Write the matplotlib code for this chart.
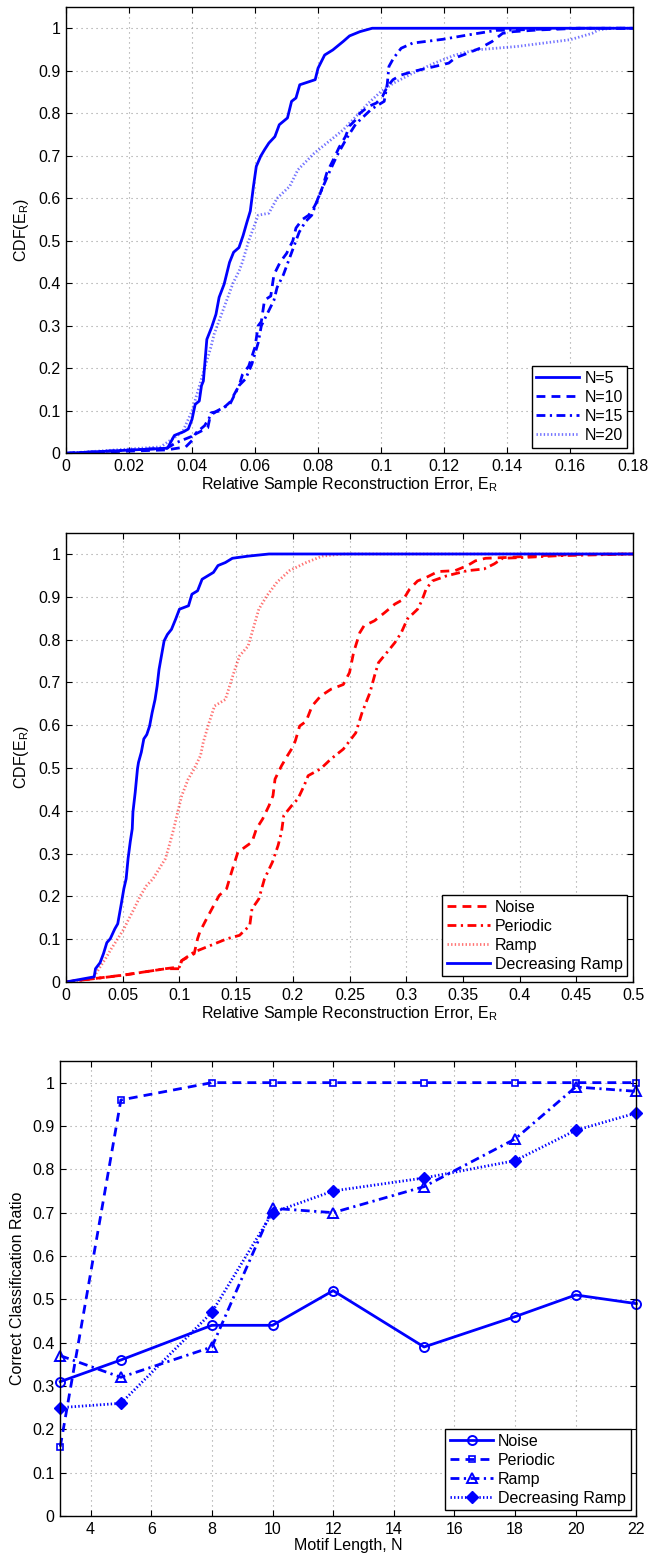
import matplotlib
matplotlib.use("Agg")
import matplotlib.pyplot as plt
from matplotlib.ticker import MultipleLocator, FuncFormatter

plt.rcParams["font.family"] = ["Liberation Sans", "DejaVu Sans"]
plt.rcParams["mathtext.fontset"] = "custom"
plt.rcParams["mathtext.rm"] = "Liberation Sans"
plt.rcParams["mathtext.it"] = "Liberation Sans"
plt.rcParams["font.size"] = 11

# ---- Panel 1: CDF of reconstruction error for several motif lengths ----
n5_err = [0, 0.0322, 0.0344, 0.0374, 0.0388, 0.040, 0.041, 0.0423, 0.043, 0.0436, 0.0447,
          0.0462, 0.0476, 0.0486, 0.0502, 0.0519, 0.0532, 0.0549, 0.0562, 0.0574, 0.0585,
          0.0595, 0.0604, 0.0618, 0.063, 0.0644, 0.0663, 0.0677, 0.0703, 0.0716, 0.073,
          0.0742, 0.0791, 0.080, 0.0821, 0.0847, 0.088, 0.090, 0.0933, 0.0972, 0.18]
n5_cdf = [0, 0.012, 0.042, 0.051, 0.057, 0.08, 0.115, 0.123, 0.159, 0.17, 0.268,
          0.296, 0.327, 0.367, 0.398, 0.449, 0.473, 0.484, 0.512, 0.543, 0.57,
          0.628, 0.675, 0.699, 0.714, 0.73, 0.745, 0.773, 0.789, 0.828, 0.836,
          0.867, 0.879, 0.906, 0.937, 0.949, 0.969, 0.982, 0.992, 1.0, 1.0]

n10_err = [0, 0.032, 0.038, 0.040, 0.041, 0.045, 0.046, 0.049, 0.052, 0.055, 0.056, 0.058,
           0.060, 0.061, 0.062, 0.063, 0.065, 0.066, 0.068, 0.070, 0.072, 0.073, 0.075,
           0.077, 0.0788, 0.080, 0.0815, 0.0828, 0.0854, 0.0867, 0.0887, 0.090, 0.092,
           0.0933, 0.096, 0.0985, 0.1005, 0.102, 0.1038, 0.1064, 0.110, 0.117, 0.1215,
           0.1235, 0.1274, 0.1314, 0.1353, 0.1386, 0.142, 0.150, 0.163, 0.18]
n10_cdf = [0, 0.008, 0.015, 0.03, 0.045, 0.06, 0.095, 0.10, 0.12, 0.16, 0.185, 0.205,
           0.25, 0.30, 0.31, 0.36, 0.37, 0.42, 0.45, 0.47, 0.50, 0.53, 0.55,
           0.56, 0.58, 0.597, 0.628, 0.66, 0.699, 0.72, 0.745, 0.77, 0.785,
           0.80, 0.816, 0.824, 0.84, 0.863, 0.879, 0.89, 0.898, 0.91, 0.918,
           0.93, 0.941, 0.953, 0.969, 0.988, 0.992, 0.996, 1.0, 1.0]

n15_err = [0, 0.032, 0.035, 0.040, 0.044, 0.046, 0.048, 0.052, 0.055, 0.057, 0.059, 0.061,
           0.062, 0.064, 0.066, 0.067, 0.069, 0.071, 0.072, 0.073, 0.074, 0.076, 0.078,
           0.080, 0.0835, 0.086, 0.089, 0.092, 0.097, 0.101, 0.102, 0.1025, 0.104, 0.1064,
           0.110, 0.1196, 0.1274, 0.1366, 0.143, 0.160, 0.18]
n15_cdf = [0, 0.012, 0.025, 0.04, 0.065, 0.09, 0.10, 0.115, 0.16, 0.175, 0.21, 0.26,
           0.30, 0.33, 0.36, 0.39, 0.42, 0.46, 0.48, 0.50, 0.52, 0.545, 0.56,
           0.60, 0.66, 0.70, 0.74, 0.775, 0.81, 0.828, 0.87, 0.91, 0.93, 0.953,
           0.965, 0.974, 0.984, 0.995, 0.996, 1.0, 1.0]

n20_err = [0, 0.030, 0.037, 0.040, 0.042, 0.044, 0.046, 0.047, 0.049, 0.051, 0.053, 0.055,
           0.056, 0.058, 0.059, 0.061, 0.0644, 0.067, 0.071, 0.0736, 0.0788, 0.084, 0.088,
           0.092, 0.096, 0.100, 0.104, 0.110, 0.117, 0.1235, 0.130, 0.143, 0.160, 0.167,
           0.169, 0.173, 0.18]
n20_cdf = [0, 0.015, 0.05, 0.10, 0.15, 0.20, 0.25, 0.28, 0.32, 0.36, 0.40, 0.43,
           0.45, 0.50, 0.52, 0.56, 0.565, 0.60, 0.628, 0.667, 0.706, 0.737, 0.761,
           0.792, 0.824, 0.851, 0.871, 0.894, 0.918, 0.937, 0.949, 0.957, 0.973, 0.988,
           0.996, 1.0, 1.0]

# ---- Panel 2: CDF of reconstruction error per motif type ----
noise_err = [0, 0.050, 0.088, 0.100, 0.102, 0.113, 0.116, 0.118, 0.124, 0.1295, 0.135,
             0.1416, 0.146, 0.1515, 0.164, 0.1679, 0.1734, 0.179, 0.1825, 0.1843, 0.190,
             0.1953, 0.2007, 0.2025, 0.206, 0.2117, 0.217, 0.2245, 0.2336, 0.2445, 0.250,
             0.2536, 0.259, 0.2627, 0.272, 0.281, 0.290, 0.2975, 0.303, 0.310, 0.3175,
             0.328, 0.343, 0.354, 0.361, 0.370, 0.390, 0.416, 0.453, 0.5]
noise_cdf = [0, 0.016, 0.031, 0.031, 0.05, 0.066, 0.101, 0.117, 0.148, 0.175, 0.202,
             0.218, 0.257, 0.303, 0.327, 0.358, 0.381, 0.412, 0.435, 0.474, 0.505,
             0.529, 0.552, 0.566, 0.598, 0.609, 0.645, 0.668, 0.684, 0.695, 0.723,
             0.77, 0.816, 0.832, 0.844, 0.863, 0.883, 0.894, 0.918, 0.937, 0.945,
             0.959, 0.961, 0.973, 0.984, 0.99, 0.992, 0.996, 0.999, 1.0]

periodic_err = [0, 0.051, 0.0876, 0.100, 0.102, 0.113, 0.128, 0.142, 0.153, 0.162, 0.164,
                0.170, 0.175, 0.182, 0.187, 0.190, 0.192, 0.199, 0.2045, 0.210, 0.2135,
                0.2245, 0.2336, 0.2445, 0.250, 0.2555, 0.261, 0.268, 0.272, 0.2755, 0.283,
                0.290, 0.2956, 0.301, 0.310, 0.3138, 0.3175, 0.323, 0.3357, 0.354, 0.3686,
                0.3777, 0.385, 0.405, 0.434, 0.5]
periodic_cdf = [0, 0.016, 0.031, 0.035, 0.05, 0.07, 0.086, 0.101, 0.109, 0.132, 0.171,
                0.194, 0.241, 0.28, 0.319, 0.35, 0.389, 0.412, 0.428, 0.459, 0.482,
                0.498, 0.521, 0.544, 0.563, 0.582, 0.629, 0.676, 0.715, 0.746, 0.77,
                0.793, 0.816, 0.848, 0.871, 0.891, 0.918, 0.937, 0.949, 0.961, 0.965,
                0.977, 0.99, 0.992, 0.996, 1.0]

ramp_err = [0, 0.024, 0.029, 0.0347, 0.040, 0.0456, 0.051, 0.0555, 0.060, 0.0657, 0.071,
            0.0767, 0.082, 0.0876, 0.091, 0.095, 0.0985, 0.102, 0.1077, 0.113, 0.1186,
            0.121, 0.126, 0.131, 0.1405, 0.148, 0.153, 0.1606, 0.164, 0.170, 0.177,
            0.186, 0.197, 0.2117, 0.226, 0.2445, 0.5]
ramp_cdf = [0, 0.009, 0.031, 0.054, 0.078, 0.101, 0.124, 0.148, 0.171, 0.202, 0.225,
            0.241, 0.264, 0.288, 0.319, 0.358, 0.397, 0.435, 0.474, 0.498, 0.529,
            0.56, 0.605, 0.645, 0.66, 0.723, 0.762, 0.785, 0.816, 0.871, 0.902,
            0.934, 0.961, 0.98, 0.995, 1.0, 1.0]

decramp_err = [0, 0.0248, 0.026, 0.030, 0.033, 0.036, 0.039, 0.043, 0.0456, 0.0485, 0.051,
               0.053, 0.0547, 0.0566, 0.0584, 0.059, 0.061, 0.063, 0.0639, 0.0664, 0.0686,
               0.0712, 0.0737, 0.0759, 0.0785, 0.0803, 0.082, 0.084, 0.0865, 0.0894, 0.093,
               0.0967, 0.100, 0.108, 0.111, 0.116, 0.120, 0.130, 0.134, 0.1405, 0.1467,
               0.1606, 0.179, 0.5]
decramp_cdf = [0, 0.012, 0.031, 0.045, 0.066, 0.092, 0.101, 0.124, 0.136, 0.179, 0.218,
               0.241, 0.288, 0.327, 0.358, 0.397, 0.443, 0.498, 0.513, 0.537, 0.568,
               0.578, 0.598, 0.629, 0.66, 0.691, 0.73, 0.76, 0.797, 0.812, 0.824,
               0.848, 0.871, 0.879, 0.906, 0.914, 0.941, 0.957, 0.973, 0.98, 0.99,
               0.995, 1.0, 1.0]

# ---- Panel 3: classification ratio vs motif length ----
motif_len = [3, 5, 8, 10, 12, 15, 18, 20, 22]
ratio_noise = [0.31, 0.36, 0.44, 0.44, 0.52, 0.39, 0.46, 0.51, 0.49]
ratio_periodic = [0.16, 0.96, 1.0, 1.0, 1.0, 1.0, 1.0, 1.0, 1.0]
ratio_ramp = [0.37, 0.32, 0.39, 0.71, 0.70, 0.76, 0.87, 0.99, 0.98]
ratio_decramp = [0.25, 0.26, 0.47, 0.70, 0.75, 0.78, 0.82, 0.89, 0.93]

BLUE = (0, 0, 1)
RED = (1, 0, 0)
LW = 2.0
DOT_LW = 2.0
DOT_ALPHA = 0.55
DASH = (0, (3.2, 2.2))
DASHDOT = (0, (3.2, 1.6, 0.8, 1.6))
DOT = (0, (0.5, 0.8))
FS = 11.5


def num_fmt(v, pos):
    s = ("%.2f" % v).rstrip("0").rstrip(".")
    return "0" if s in ("-0", "") else s


def style_axes(ax):
    ax.set_ylim(0, 1.05)
    ax.yaxis.set_major_locator(MultipleLocator(0.1))
    ax.xaxis.set_major_formatter(FuncFormatter(num_fmt))
    ax.yaxis.set_major_formatter(FuncFormatter(num_fmt))
    ax.tick_params(direction="in", top=True, right=True, length=4, width=0.8,
                   labelsize=FS, pad=4)
    ax.grid(True, color="#9a9a9a", linestyle=(0, (1, 3.5)), linewidth=0.8)
    for sp in ax.spines.values():
        sp.set_linewidth(1.0)
    ax.set_axisbelow(True)


fig = plt.figure(figsize=(6.48, 15.55), dpi=100)

ax1 = fig.add_axes([0.1019, 0.7085, 0.875, 0.287])
ax1.plot(n5_err, n5_cdf, color=BLUE, lw=LW, ls="-", label="N=5")
ax1.plot(n10_err, n10_cdf, color=BLUE, lw=LW, ls=DASH, label="N=10")
ax1.plot(n15_err, n15_cdf, color=BLUE, lw=LW, ls=DASHDOT, label="N=15")
ax1.plot(n20_err, n20_cdf, color=BLUE, lw=DOT_LW, ls=DOT, alpha=DOT_ALPHA, label="N=20")
ax1.set_xlim(0, 0.18)
ax1.xaxis.set_major_locator(MultipleLocator(0.02))
style_axes(ax1)
ax1.set_xlabel(r"Relative Sample Reconstruction Error, E$_\mathregular{R}$", fontsize=FS, labelpad=1)
ax1.set_ylabel(r"CDF(E$_\mathregular{R}$)", fontsize=FS, labelpad=5)

ax2 = fig.add_axes([0.1019, 0.3685, 0.875, 0.289])
ax2.plot(noise_err, noise_cdf, color=RED, lw=LW, ls=DASH, label="Noise")
ax2.plot(periodic_err, periodic_cdf, color=RED, lw=LW, ls=DASHDOT, label="Periodic")
ax2.plot(ramp_err, ramp_cdf, color=RED, lw=DOT_LW, ls=DOT, alpha=DOT_ALPHA, label="Ramp")
ax2.plot(decramp_err, decramp_cdf, color=BLUE, lw=LW, ls="-", label="Decreasing Ramp")
ax2.set_xlim(0, 0.5)
ax2.xaxis.set_major_locator(MultipleLocator(0.05))
style_axes(ax2)
ax2.set_xlabel(r"Relative Sample Reconstruction Error, E$_\mathregular{R}$", fontsize=FS, labelpad=1)
ax2.set_ylabel(r"CDF(E$_\mathregular{R}$)", fontsize=FS, labelpad=5)

ax3 = fig.add_axes([0.093, 0.0251, 0.889, 0.2926])
ax3.plot(motif_len, ratio_noise, color=BLUE, lw=LW, ls="-", marker="o", ms=6.5,
         mfc="none", mew=1.4, clip_on=False, label="Noise")
ax3.plot(motif_len, ratio_periodic, color=BLUE, lw=LW, ls=DASH, marker="s", ms=4,
         mfc="none", mew=1.2, clip_on=False, label="Periodic")
ax3.plot(motif_len, ratio_ramp, color=BLUE, lw=LW, ls=DASHDOT, marker="^", ms=7.5,
         mfc="none", mew=1.4, clip_on=False, label="Ramp")
ax3.plot(motif_len, ratio_decramp, color=BLUE, lw=DOT_LW, ls=DOT, marker="D", ms=6.5,
         mfc=BLUE, mew=1.0, clip_on=False, label="Decreasing Ramp")
for ln in ax3.get_lines()[3:]:
    pass
ax3.set_xlim(3, 22)
ax3.xaxis.set_major_locator(MultipleLocator(2))
style_axes(ax3)
ax3.set_xlabel("Motif Length, N", fontsize=FS, labelpad=1)
ax3.set_ylabel("Correct Classification Ratio", fontsize=FS, labelpad=5)

for ax in (ax1, ax2, ax3):
    leg = ax.legend(loc="lower right", fontsize=FS, frameon=True, fancybox=False,
                    edgecolor="black", framealpha=1.0, borderaxespad=0.35,
                    handlelength=2.7, handletextpad=0.3, labelspacing=0.25,
                    borderpad=0.3)
    leg.get_frame().set_linewidth(1.0)

fig.savefig("out.png", dpi=100)
